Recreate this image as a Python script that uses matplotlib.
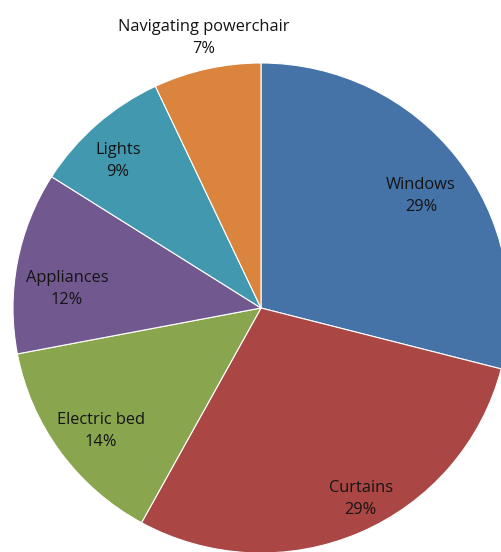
import numpy as np
import matplotlib.pyplot as plt

labels = ['Windows', 'Curtains', 'Electric bed', 'Appliances', 'Lights', 'Navigating powerchair']
shares = [29, 29, 14, 12, 9, 7]
colors = ['#4572A7', '#AA4643', '#89A54E', '#71588F', '#4198AF', '#DB843D']
# label placement: distance as a fraction of the radius, and a nudge off the wedge middle (deg)
label_dist = [0.79, 0.878, 0.817, 0.786, 0.832, 1.126]
label_shift = [-2.5, 3.9, 1.9, 5.1, 2.5, -0.8]

W, H = 502, 552
fig = plt.figure(figsize=(W / 100, H / 100), dpi=100)
ax = fig.add_axes([0, 0, 1, 1])

# pie is slightly wider than tall: 248 px across, 245 px up/down
rx, ry = 248, 245
sy = rx / ry
cx, cy = 261, (H - 308) * sy
wedges, _ = ax.pie(shares, colors=colors, startangle=90, counterclock=False,
                   center=(cx, cy), radius=rx, frame=True,
                   wedgeprops=dict(edgecolor='white', linewidth=0.8))
ax.set_xlim(0, W)
ax.set_ylim(0, H * sy)
ax.set_aspect('auto')
ax.axis('off')

for w, lab, val, d, s in zip(wedges, labels, shares, label_dist, label_shift):
    ang = np.deg2rad((w.theta1 + w.theta2) / 2 + s)
    x = cx + d * rx * np.cos(ang)
    y = cy + d * rx * np.sin(ang)
    ax.text(x, y, '%s\n%d%%' % (lab, val), ha='center', va='center',
            fontsize=11.8, family='Open Sans', color='#141414', linespacing=1.5)

fig.savefig('out.png', dpi=100)
